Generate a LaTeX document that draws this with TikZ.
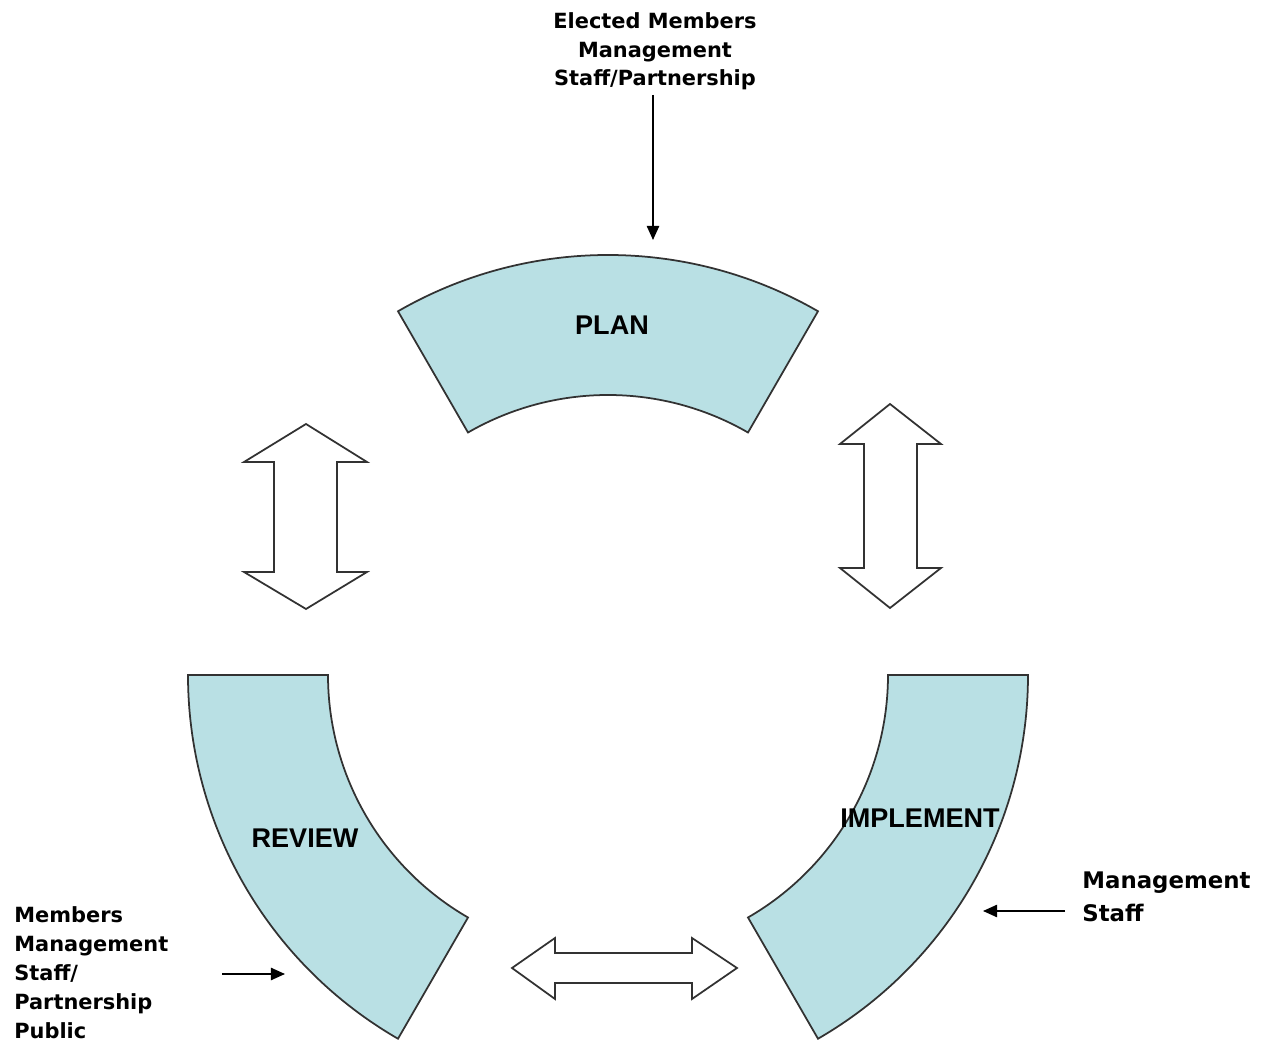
\documentclass[tikz,border=0pt]{standalone}
\usepackage{fontspec}
\setmainfont{Liberation Sans}
\newfontfamily\heavyfont{DejaVu Sans}
\usetikzlibrary{arrows.meta}
\definecolor{sectorfill}{RGB}{185,224,228}
\definecolor{edgegray}{RGB}{50,50,50}
\tikzset{
  sector/.style={fill=sectorfill, draw=edgegray, line width=1pt},
  dblarrow/.style={fill=white, draw=edgegray, line width=1pt, line join=miter},
  stagelabel/.style={font=\fontsize{15.4}{18}\selectfont\bfseries, inner sep=0pt},
  sidetext/.style={font=\heavyfont\bfseries\fontsize{11.9}{16.4}\selectfont, inner sep=0pt},
  bigside/.style={font=\heavyfont\bfseries\fontsize{13}{19.3}\selectfont, inner sep=0pt},
  pointer/.style={line width=0.9pt, -{Triangle[length=8pt,width=7pt]}}
}
\begin{document}
\begin{tikzpicture}[x=0.02cm,y=0.02cm]
\useasboundingbox (0,0) rectangle (1272,1042);
\coordinate (C) at (608,367);
% sectors
\draw[sector] ([shift={(C)}]60:420) arc[start angle=60,end angle=120,radius=420]
  -- ([shift={(C)}]120:280) arc[start angle=120,end angle=60,radius=280] -- cycle;
\draw[sector] ([shift={(C)}]180:420) arc[start angle=180,end angle=240,radius=420]
  -- ([shift={(C)}]240:280) arc[start angle=240,end angle=180,radius=280] -- cycle;
\draw[sector] ([shift={(C)}]300:420) arc[start angle=300,end angle=360,radius=420]
  -- ([shift={(C)}]360:280) arc[start angle=360,end angle=300,radius=280] -- cycle;
\node[stagelabel] (plan) at (612,717) {PLAN};
\node[stagelabel] (review) at (305,204) {REVIEW};
\node[stagelabel] (implement) at (920,224) {IMPLEMENT};
% double arrows
\draw[dblarrow] (306,618) -- (367,580) -- (337,580) -- (337,470) -- (367,470) -- (306,433)
  -- (244,470) -- (274,470) -- (274,580) -- (244,580) -- cycle;
\draw[dblarrow] (890,638) -- (941,598) -- (917,598) -- (917,474) -- (941,474) -- (890,434)
  -- (840,474) -- (864,474) -- (864,598) -- (840,598) -- cycle;
\draw[dblarrow] (512,74) -- (555,104) -- (555,89) -- (692,89) -- (692,104) -- (737,74)
  -- (692,43) -- (692,59) -- (555,59) -- (555,43) -- cycle;
% side texts (base anchor = baseline of last line)
\node[sidetext, align=center, anchor=base] (toptext) at (655,956)
  {Elected Members\\Management\\Staff/Partnership};
\node[sidetext, align=left, anchor=base west] (lefttext) at (14,4)
  {Members\\Management\\Staff/\\Partnership\\Public};
\node[bigside, align=left, anchor=base west] (righttext) at (1082,120)
  {Management\\Staff};
% pointers
\coordinate (ts) at (653,947);
\coordinate (te) at (653,802);
\coordinate (ls) at (222,68);
\coordinate (le) at (285,68);
\coordinate (rs) at (1065,131);
\coordinate (re) at (983,131);
\draw[pointer] (ts) -- (te);
\draw[pointer] (ls) -- (le);
\draw[pointer] (rs) -- (re);
\end{tikzpicture}
\end{document}
